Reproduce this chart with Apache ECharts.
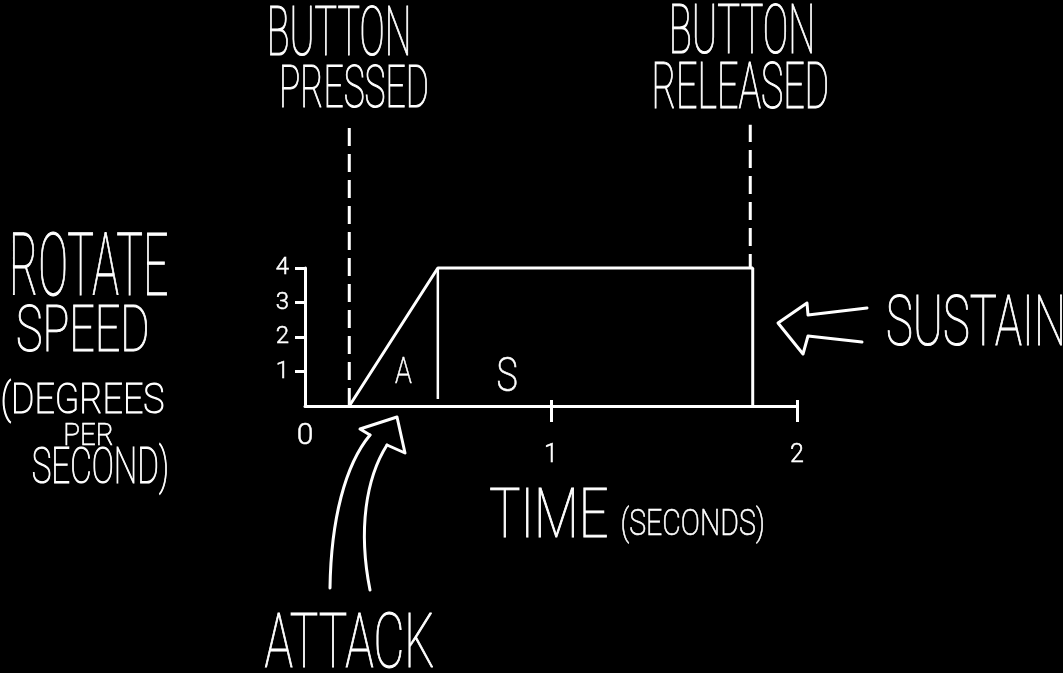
<!DOCTYPE html>
<html>
<head>
<meta charset="utf-8">
<script src="https://cdn.jsdelivr.net/npm/echarts@6/dist/echarts.min.js"></script>
<style>
  html, body { margin: 0; padding: 0; background: #000; }
  #main { width: 1063px; height: 673px; }
</style>
</head>
<body>
<div id="main"></div>
<script>
// envelope: time in seconds, rotate speed in degrees per second
const envTime = [0.18, 0.54, 1.82, 1.82];
const envSpeed = [0, 4, 4, 0];
const attackEnd = 0.54;
const attackDividerBottom = 0.2;
const pressedTime = 0.18;
const releasedTime = 1.81;
const guideTop = 8.15;
const xTickLabels = [0, 1, 2];
const yTickLabels = [1, 2, 3, 4];

const chartElement = document.getElementById("main");
const measureCtx = document.createElement("canvas").getContext("2d");
const FAMILY = "Roboto";

// fit a hand-lettered label into a box (caps top/bottom, ink left/right)
function handText(str, left, right, capTop, capBottom, weight, thick) {
  weight = weight || 100;
  measureCtx.textBaseline = "middle";
  measureCtx.font = weight + " 100px " + FAMILY;
  const h = measureCtx.measureText("H");
  const capH = h.actualBoundingBoxAscent + h.actualBoundingBoxDescent;
  const size = ((capBottom - capTop) / capH) * 100;
  measureCtx.font = weight + " " + size + "px " + FAMILY;
  const hm = measureCtx.measureText("H");
  const m = measureCtx.measureText(str);
  const inkW = m.actualBoundingBoxLeft + m.actualBoundingBoxRight;
  const sx = (right - left) / inkW;
  return {
    type: "text",
    x: left + m.actualBoundingBoxLeft * sx,
    y: capTop + hm.actualBoundingBoxAscent,
    scaleX: sx,
    silent: true,
    style: {
      text: str,
      fill: "#fff",
      stroke: "#fff",
      lineWidth: thick == null ? 1.1 : thick,
      font: weight + " " + size + "px " + FAMILY,
      align: "left",
      verticalAlign: "middle",
    },
  };
}

function zip(xs, ys) {
  return xs.map((x, i) => [x, ys[i]]);
}

const white = "#fff";
const stroke = { stroke: white, lineWidth: 3, fill: null, lineCap: "round", lineJoin: "round" };

const option = {
  backgroundColor: "#000",
  animation: false,
  grid: {
    left: 305,
    right: 266,
    top: 268,
    bottom: 267,
    containLabel: false,
    outerBoundsMode: "none",
  },
  xAxis: [
    {
      type: "value",
      position: "bottom",
      min: 0,
      max: 2,
      interval: 1,
      splitLine: { show: false },
      axisLine: { lineStyle: { color: white, width: 3 } },
      axisTick: {
        customValues: [1, 2],
        length: 16,
        lineStyle: { color: white, width: 3 },
      },
      axisLabel: {
        customValues: xTickLabels.slice(1),
        margin: 37,
        color: white,
        fontFamily: FAMILY,
        fontWeight: 300,
        fontSize: 25,
        textBorderColor: white,
        textBorderWidth: 0.5,
      },
    },
    {
      type: "value",
      position: "bottom",
      min: 0,
      max: 2,
      interval: 1,
      splitLine: { show: false },
      axisLine: { show: false },
      axisTick: {
        customValues: [1, 2],
        inside: true,
        length: 6,
        lineStyle: { color: white, width: 3 },
      },
      axisLabel: {
        customValues: xTickLabels.slice(0, 1),
        margin: 15,
        color: white,
        fontFamily: FAMILY,
        fontWeight: 300,
        fontSize: 30,
        textBorderColor: white,
        textBorderWidth: 0.5,
      },
    },
  ],
  yAxis: {
    type: "value",
    min: 0,
    max: 4,
    interval: 1,
    splitLine: { show: false },
    axisLine: { show: true, lineStyle: { color: white, width: 3 } },
    axisTick: {
      show: true,
      customValues: yTickLabels,
      length: 10,
      lineStyle: { color: white, width: 3 },
    },
    axisLabel: {
      customValues: yTickLabels,
      margin: 16,
      color: white,
      fontFamily: FAMILY,
      fontWeight: 300,
      fontSize: 24,
      textBorderColor: white,
      textBorderWidth: 0.5,
    },
  },
  series: [
    {
      name: "envelope",
      type: "line",
      data: zip(envTime, envSpeed),
      showSymbol: false,
      lineStyle: { color: white, width: 3 },
      clip: false,
    },
    {
      name: "attack end",
      type: "line",
      data: [[attackEnd, envSpeed[1]], [attackEnd, attackDividerBottom]],
      showSymbol: false,
      lineStyle: { color: white, width: 2.5 },
    },
    {
      name: "button pressed",
      type: "line",
      data: [[pressedTime, 0], [pressedTime, guideTop]],
      showSymbol: false,
      clip: false,
      lineStyle: { color: white, width: 3, type: [18, 8] },
    },
    {
      name: "button released",
      type: "line",
      data: [[releasedTime, envSpeed[2]], [releasedTime, guideTop]],
      showSymbol: false,
      clip: false,
      lineStyle: { color: white, width: 3, type: [18, 8], dashOffset: 4 },
    },
  ],
  graphic: [
    handText("BUTTON", 270, 408, 6, 55),
    handText("PRESSED", 282, 427, 65, 108),
    handText("BUTTON", 672, 812, 4, 54),
    handText("RELEASED", 655, 827, 62, 108),
    handText("ROTATE", 13, 167, 232, 295),
    handText("SPEED", 18, 147, 305, 352),
    handText("(DEGREES", 3, 163, 383, 413),
    handText("PER", 65, 112, 423, 445, 200, 0.6),
    handText("SECOND)", 33, 167, 447, 483),
    handText("SUSTAIN", 888, 1062, 295, 346),
    handText("ATTACK", 265, 433, 613, 668),
    handText("TIME", 490, 607, 488, 537),
    handText("(SECONDS)", 622, 763, 509, 535, 200, 0.6),
    handText("A", 395, 412, 357, 384, 200, 0.6),
    handText("S", 498, 517, 357, 391, 200, 0.6),
    // attack arrow
    {
      type: "bezierCurve",
      silent: true,
      shape: { x1: 330, y1: 588, cpx1: 331, cpy1: 520, cpx2: 345, cpy2: 465, x2: 370, y2: 435 },
      style: stroke,
    },
    {
      type: "bezierCurve",
      silent: true,
      shape: { x1: 370, y1: 590, cpx1: 358, cpy1: 530, cpx2: 366, cpy2: 478, x2: 387, y2: 445 },
      style: stroke,
    },
    {
      type: "polyline",
      silent: true,
      shape: { points: [[370, 435], [360, 429], [397, 417], [405, 453], [387, 445]] },
      style: stroke,
    },
    // sustain arrow
    {
      type: "polyline",
      silent: true,
      shape: {
        points: [[867, 308], [808, 315], [807, 303], [778, 323], [803, 354], [808, 336], [862, 342]],
      },
      style: stroke,
    },
  ],
};

const myChart = echarts.init(chartElement);
myChart.setOption(option);
</script>
</body>
</html>
